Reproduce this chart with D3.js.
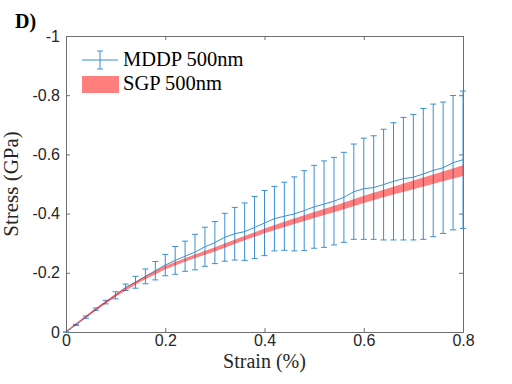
<!DOCTYPE html>
<html>
<head>
<meta charset="utf-8">
<script src="https://cdn.jsdelivr.net/npm/d3@7"></script>
<style>
	body { margin: 0; background: #fff; }
	svg { display: block; }
</style>
</head>
<body>
<svg id="chart" width="512" height="384"></svg>
<script>
// MDDP 500nm: mean stress and symmetric error (GPa) at each strain (%)
var strain = [0, 0.02, 0.04, 0.06, 0.08, 0.10, 0.12, 0.14, 0.16, 0.18, 0.20,
	0.22, 0.24, 0.26, 0.28, 0.30, 0.32, 0.34, 0.36, 0.38, 0.40,
	0.42, 0.44, 0.46, 0.48, 0.50, 0.52, 0.54, 0.56, 0.58, 0.60,
	0.62, 0.64, 0.66, 0.68, 0.70, 0.72, 0.74, 0.76, 0.78, 0.80];
var mddpMean = [0, -0.024, -0.050, -0.077, -0.101, -0.124, -0.151, -0.168, -0.188, -0.207, -0.226,
	-0.242, -0.256, -0.270, -0.288, -0.302, -0.320, -0.332, -0.339, -0.353, -0.368,
	-0.383, -0.391, -0.399, -0.410, -0.423, -0.432, -0.442, -0.455, -0.474, -0.484,
	-0.488, -0.498, -0.509, -0.518, -0.523, -0.534, -0.546, -0.555, -0.572, -0.582];
var mddpErr = [0, 0.002, 0.004, 0.004, 0.006, 0.012, 0.011, 0.020, 0.025, 0.031, 0.036,
	0.047, 0.051, 0.060, 0.066, 0.071, 0.081, 0.089, 0.097, 0.105, 0.110,
	0.109, 0.115, 0.125, 0.135, 0.140, 0.146, 0.148, 0.152, 0.161, 0.171,
	0.175, 0.187, 0.198, 0.207, 0.212, 0.221, 0.224, 0.222, 0.227, 0.232];

// SGP 500nm band
var sgpStrain = [0, 0.05, 0.10, 0.15, 0.20, 0.25, 0.30, 0.35, 0.40,
	0.45, 0.50, 0.55, 0.60, 0.65, 0.70, 0.75, 0.80];
var sgpLow = [0, -0.060, -0.119, -0.170, -0.212, -0.244, -0.272, -0.304, -0.334,
	-0.360, -0.385, -0.410, -0.436, -0.460, -0.482, -0.505, -0.527];
var sgpHigh = [-0.004, -0.068, -0.129, -0.180, -0.224, -0.256, -0.286, -0.318, -0.350,
	-0.378, -0.405, -0.432, -0.460, -0.486, -0.512, -0.537, -0.563];

var xTicks = [0, 0.2, 0.4, 0.6, 0.8];
var yTicks = [0, -0.2, -0.4, -0.6, -0.8, -1];

var seriesNames = ["MDDP 500nm", "SGP 500nm"];

var svg = d3.select("#chart"),
	plotLeft = 66, plotRight = 463, plotTop = 36, plotBottom = 332,
	blue = "#3b8fd0", axisColor = "#6e6e6e";

var x = d3.scaleLinear().domain([0, 0.8]).range([plotLeft, plotRight]);
var y = d3.scaleLinear().domain([0, -1]).range([plotBottom, plotTop]);

var fmt = function (d) { return d === 0 ? "0" : String(d); };

// axes with inward ticks, full box
svg.append("g")
	.attr("transform", "translate(0," + plotBottom + ")")
	.call(d3.axisBottom(x).tickValues(xTicks).tickFormat(fmt).tickSizeInner(-4).tickSizeOuter(0).tickPadding(3))
	.call(styleAxis);
svg.append("g")
	.attr("transform", "translate(0," + plotTop + ")")
	.call(d3.axisTop(x).tickValues(xTicks).tickFormat("").tickSizeInner(-4).tickSizeOuter(0))
	.call(styleAxis);
svg.append("g")
	.attr("transform", "translate(" + plotLeft + ",0)")
	.call(d3.axisLeft(y).tickValues(yTicks).tickFormat(fmt).tickSizeInner(-4).tickSizeOuter(0).tickPadding(6))
	.call(styleAxis);
svg.append("g")
	.attr("transform", "translate(" + plotRight + ",0)")
	.call(d3.axisRight(y).tickValues(yTicks).tickFormat("").tickSizeInner(-4).tickSizeOuter(0))
	.call(styleAxis);

function styleAxis(g) {
	g.select(".domain").attr("stroke", axisColor);
	g.selectAll(".tick line").attr("stroke", axisColor);
	g.selectAll(".tick text")
		.attr("fill", "#262626")
		.style("font-family", "'Liberation Sans', Arial, sans-serif")
		.style("font-size", "16px");
}

// MDDP error bars
var bars = svg.append("g").attr("class", "errorbars")
	.attr("stroke", blue).attr("stroke-width", 1).attr("fill", "none");

strain.forEach(function (s, i) {
	var cx = x(s),
		yLo = y(mddpMean[i] + mddpErr[i]),
		yHi = y(mddpMean[i] - mddpErr[i]);
	bars.append("line").attr("x1", cx).attr("x2", cx).attr("y1", yLo).attr("y2", yHi);
	bars.append("line").attr("x1", cx - 3).attr("x2", cx + 3).attr("y1", yLo).attr("y2", yLo);
	bars.append("line").attr("x1", cx - 3).attr("x2", cx + 3).attr("y1", yHi).attr("y2", yHi);
});

// MDDP mean line
svg.append("path")
	.datum(strain.map(function (s, i) { return [s, mddpMean[i]]; }))
	.attr("fill", "none")
	.attr("stroke", blue)
	.attr("stroke-width", 1)
	.attr("d", d3.line().x(function (d) { return x(d[0]); }).y(function (d) { return y(d[1]); }));

// SGP band
svg.append("path")
	.datum(sgpStrain.map(function (s, i) { return { s: s, lo: sgpLow[i], hi: sgpHigh[i] }; }))
	.attr("fill", "#ff0000")
	.attr("fill-opacity", 0.5)
	.attr("d", d3.area()
		.x(function (d) { return x(d.s); })
		.y0(function (d) { return y(d.lo); })
		.y1(function (d) { return y(d.hi); }));

// legend
var serif = "'Liberation Serif', 'Times New Roman', serif";
var legend = svg.append("g").attr("class", "legend");
legend.append("line").attr("x1", 82).attr("x2", 118).attr("y1", 60).attr("y2", 60)
	.attr("stroke", blue);
legend.append("line").attr("x1", 100).attr("x2", 100).attr("y1", 51).attr("y2", 69)
	.attr("stroke", blue);
legend.append("line").attr("x1", 97).attr("x2", 103).attr("y1", 51).attr("y2", 51)
	.attr("stroke", blue);
legend.append("line").attr("x1", 97).attr("x2", 103).attr("y1", 69).attr("y2", 69)
	.attr("stroke", blue);
legend.append("rect").attr("x", 82).attr("y", 76).attr("width", 37).attr("height", 17)
	.attr("fill", "#ff0000").attr("fill-opacity", 0.5);
legend.selectAll("text")
	.data(seriesNames)
	.enter().append("text")
	.attr("x", 123)
	.attr("y", function (d, i) { return i === 0 ? 66 : 90; })
	.attr("fill", "#000")
	.style("font-family", serif)
	.style("font-size", "20.5px")
	.text(function (d) { return d; });

// labels
svg.append("text")
	.attr("x", (plotLeft + plotRight) / 2)
	.attr("y", 368)
	.attr("text-anchor", "middle")
	.style("font-family", serif)
	.style("font-size", "20px")
	.attr("fill", "#262626")
	.text("Strain (%)");

svg.append("text")
	.attr("transform", "translate(18," + (plotTop + plotBottom) / 2 + ") rotate(-90)")
	.attr("text-anchor", "middle")
	.style("font-family", serif)
	.style("font-size", "21px")
	.attr("fill", "#262626")
	.text("Stress (GPa)");

svg.append("text")
	.attr("x", 15)
	.attr("y", 28)
	.style("font-family", serif)
	.style("font-size", "20px")
	.style("font-weight", "bold")
	.attr("fill", "#000")
	.text("D)");
</script>
</body>
</html>
